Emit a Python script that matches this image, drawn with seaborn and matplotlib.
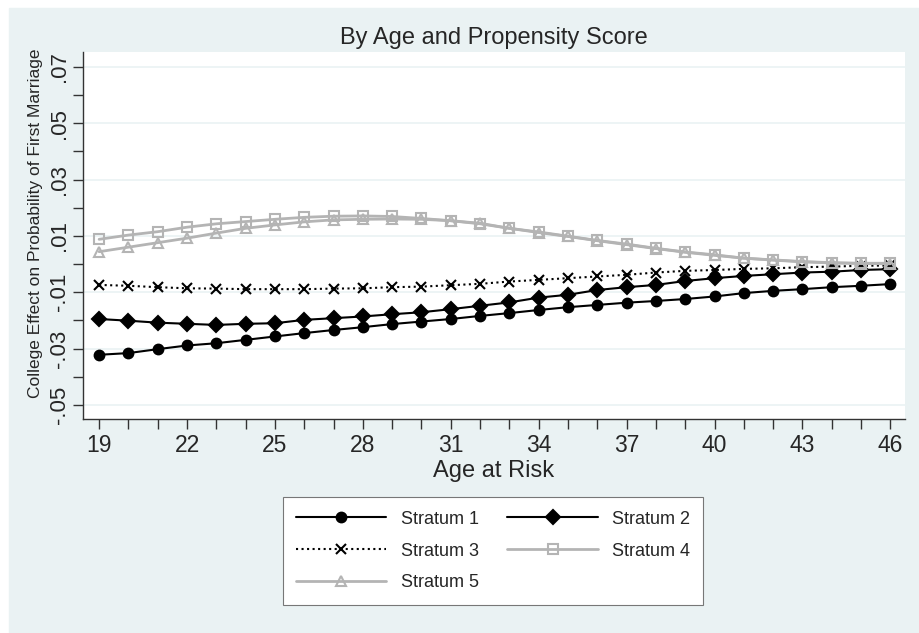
import numpy as np
import pandas as pd
import seaborn as sns
import matplotlib.pyplot as plt
from matplotlib.patches import Rectangle
from matplotlib.ticker import FixedLocator

# Values
ages = [19, 20, 21, 22, 23, 24, 25, 26, 27, 28, 29, 30, 31, 32,
        33, 34, 35, 36, 37, 38, 39, 40, 41, 42, 43, 44, 45, 46]

stratum_1 = [-0.0322, -0.0316, -0.0302, -0.0289, -0.0281, -0.0269, -0.0257,
             -0.0245, -0.0234, -0.0224, -0.0213, -0.0204, -0.0195, -0.0184,
             -0.0174, -0.0163, -0.0153, -0.0145, -0.0137, -0.0131, -0.0124,
             -0.0115, -0.0103, -0.0095, -0.0089, -0.0082, -0.0077, -0.0071]

stratum_2 = [-0.0195, -0.0201, -0.0208, -0.0212, -0.0216, -0.0212, -0.0210,
             -0.0198, -0.0192, -0.0186, -0.0178, -0.0171, -0.0160, -0.0148,
             -0.0136, -0.0119, -0.0109, -0.0092, -0.0082, -0.0074, -0.0060,
             -0.0050, -0.0042, -0.0036, -0.0030, -0.0027, -0.0021, -0.0018]

stratum_3 = [-0.0074, -0.0077, -0.0082, -0.0086, -0.0087, -0.0089, -0.0089,
             -0.0089, -0.0087, -0.0086, -0.0082, -0.0080, -0.0075, -0.0070,
             -0.0062, -0.0056, -0.0050, -0.0044, -0.0038, -0.0030, -0.0024,
             -0.0021, -0.0017, -0.0015, -0.0011, -0.0009, -0.0006, -0.0005]

stratum_4 = [0.0088, 0.0103, 0.0115, 0.0131, 0.0143, 0.0151, 0.0159,
             0.0166, 0.0170, 0.0171, 0.0169, 0.0162, 0.0154, 0.0143,
             0.0127, 0.0114, 0.0099, 0.0084, 0.0071, 0.0056, 0.0043,
             0.0033, 0.0021, 0.0015, 0.0009, 0.0005, 0.0003, 0.0003]

stratum_5 = [0.0044, 0.0060, 0.0076, 0.0092, 0.0110, 0.0127, 0.0139,
             0.0150, 0.0157, 0.0159, 0.0160, 0.0159, 0.0154, 0.0145,
             0.0127, 0.0112, 0.0098, 0.0083, 0.0069, 0.0055, 0.0042,
             0.0031, 0.0021, 0.0014, 0.0008, 0.0004, 0.0002, 0.0001]

labels = ["Stratum 1", "Stratum 2", "Stratum 3", "Stratum 4", "Stratum 5"]

x_major = [19, 22, 25, 28, 31, 34, 37, 40, 43, 46]
y_major = [-0.05, -0.03, -0.01, 0.01, 0.03, 0.05, 0.07]
y_major_labels = ["-.05", "-.03", "-.01", ".01", ".03", ".05", ".07"]
y_minor = [-0.04, -0.02, 0.0, 0.02, 0.04, 0.06]

BG = "#EAF2F3"
GRAY = "#B4B4B4"


def main():
    sns.set_style("ticks")
    plt.rcParams["font.family"] = ["Liberation Sans", "DejaVu Sans"]

    fig = plt.figure(figsize=(9.19, 6.33), dpi=100, facecolor="white")
    # light bluish-gray graph region (thin white strip on top/left)
    fig.patches.append(Rectangle((9 / 919, 0), 1, 1 - 8 / 633,
                                 transform=fig.transFigure, color=BG, zorder=-1))

    ax = fig.add_axes([83 / 919, 1 - 419 / 633, 822 / 919, 367 / 633])
    ax.set_facecolor("white")

    # series styles: (values, color, marker, linestyle, face, size, lw)
    styles = [
        (stratum_1, "black", "o", "-", "black", 7, 1.5),
        (stratum_2, "black", "D", "-", "black", 7.5, 1.5),
        (stratum_3, "black", "x", ":", "black", 7, 1.5),
        (stratum_4, GRAY, "s", "-", "none", 7.5, 2.0),
        (stratum_5, GRAY, "^", "-", "none", 7.5, 2.0),
    ]

    lines = []
    for (vals, col, mk, ls, face, ms, lw), lab in zip(styles, labels):
        sns.lineplot(x=ages, y=vals, ax=ax, color=col, marker=mk, linestyle=ls,
                     linewidth=lw, markersize=ms, markerfacecolor=face,
                     markeredgecolor=col, markeredgewidth=1.5,
                     label=lab, legend=False)
        lines.append(ax.lines[-1])

    ax.set_xlim(18.45, 46.5)
    ax.set_ylim(-0.055, 0.0753)

    # ticks and labels
    ax.set_xticks(x_major)
    ax.set_xticklabels([str(a) for a in x_major])
    ax.xaxis.set_minor_locator(FixedLocator(ages))
    ax.set_yticks(y_major)
    ax.set_yticklabels(y_major_labels)
    ax.yaxis.set_minor_locator(FixedLocator(y_minor))

    ax.tick_params(axis="both", which="both", length=7.5, width=1,
                   color="#333333", labelsize=16.5, direction="out")
    ax.tick_params(axis="x", pad=3)
    ax.tick_params(axis="y", pad=2, labelrotation=90, labelsize=16)
    for t in ax.get_yticklabels():
        t.set_va("center")

    ax.grid(axis="y", which="major", color=BG, linewidth=1.2)
    ax.grid(axis="x", visible=False)

    for side in ["top", "right"]:
        ax.spines[side].set_visible(False)
    for side in ["left", "bottom"]:
        ax.spines[side].set_color("#333333")
        ax.spines[side].set_linewidth(1)

    ax.set_xlabel("Age at Risk", fontsize=17)
    ax.xaxis.set_label_coords(0.5, -0.112)
    ax.set_ylabel("College Effect on Probability of First Marriage", fontsize=12.5)
    ax.yaxis.set_label_coords(-0.0485, 0.534)

    fig.text(494 / 919, 1 - 38 / 633, "By Age and Propensity Score",
             ha="center", va="center", fontsize=17)

    # legend filled row by row: S1 S2 / S3 S4 / S5
    order = [0, 2, 4, 1, 3]
    leg = fig.legend([lines[i] for i in order], [labels[i] for i in order],
                     loc="center", bbox_to_anchor=(493 / 919, 1 - 551 / 633),
                     ncol=2, fontsize=13, handlelength=5, handletextpad=0.78,
                     columnspacing=1.6, labelspacing=0.82, borderpad=0.75,
                     fancybox=False, framealpha=1, edgecolor="#777777")
    leg.get_frame().set_linewidth(0.8)

    fig.savefig("out.png", dpi=100, facecolor=fig.get_facecolor())


if __name__ == "__main__":
    main()
